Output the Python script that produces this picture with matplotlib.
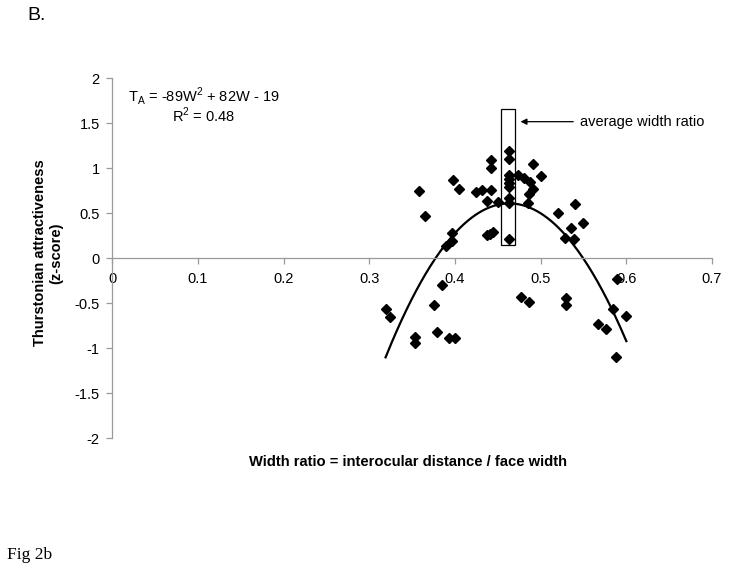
import numpy as np
import matplotlib
matplotlib.use("Agg")
import matplotlib.pyplot as plt
from matplotlib.patches import Rectangle

# ---- data ----
width_ratio = [0.358, 0.3645, 0.398, 0.405, 0.425, 0.397, 0.397, 0.390, 0.385,
               0.463, 0.463, 0.4415, 0.4415, 0.432, 0.4415, 0.4376, 0.4497,
               0.463, 0.463, 0.463, 0.463, 0.463, 0.463, 0.463,
               0.474, 0.481, 0.487, 0.4905, 0.491, 0.486, 0.4855, 0.500,
               0.4376, 0.4407, 0.4446, 0.5197, 0.540, 0.536, 0.5496, 0.5286,
               0.5387, 0.589, 0.319, 0.324, 0.353, 0.353, 0.376, 0.3785,
               0.393, 0.400, 0.477, 0.486, 0.529, 0.529, 0.5846, 0.600,
               0.5675, 0.576, 0.588]
attractiveness = [0.748, 0.473, 0.870, 0.770, 0.733, 0.278, 0.196, 0.140, -0.30,
                  1.19, 1.10, 1.09, 1.007, 0.759, 0.759, 0.64, 0.629,
                  0.925, 0.88, 0.84, 0.795, 0.667, 0.62, 0.21,
                  0.925, 0.889, 0.844, 1.048, 0.767, 0.711, 0.611, 0.914,
                  0.262, 0.27, 0.296, 0.507, 0.603, 0.337, 0.396, 0.229,
                  0.218, -0.233, -0.563, -0.648, -0.871, -0.945, -0.519, -0.822,
                  -0.886, -0.882, -0.433, -0.486, -0.441, -0.515, -0.563, -0.637,
                  -0.733, -0.789, -1.093]

# drawn quadratic trend line (as plotted) and its range
trend_coeffs = [-82.0, 76.0, -17.0]
trend_range = [0.319, 0.600]

# average width ratio box
avg_box_w = [0.454, 0.4697]
avg_box_v = [0.152, 1.655]

x_ticks = [0, 0.1, 0.2, 0.3, 0.4, 0.5, 0.6, 0.7]
x_ticklabels = ["0", "0.1", "0.2", "0.3", "0.4", "0.5", "0.6", "0.7"]
y_ticks = [-2, -1.5, -1, -0.5, 0, 0.5, 1, 1.5, 2]
y_ticklabels = ["-2", "-1.5", "-1", "-0.5", "0", "0.5", "1", "1.5", "2"]

plt.rcParams['font.family'] = ['Liberation Sans', 'DejaVu Sans']
plt.rcParams['mathtext.fontset'] = 'custom'
plt.rcParams['mathtext.rm'] = 'Liberation Sans'

W, H = 729, 573
fig = plt.figure(figsize=(W / 100, H / 100), dpi=100)
ax = fig.add_axes([112.3 / W, 1 - 438.3 / H, (712 - 112.3) / W, (438.3 - 78.3) / H])

axis_gray = '#9a9a9a'
ax.set_xlim(0, 0.7)
ax.set_ylim(-2, 2)

# points
ax.plot(width_ratio, attractiveness, linestyle='none', marker='D',
        markersize=5.4, color='black', zorder=3)

# trend curve
wc = np.linspace(trend_range[0], trend_range[1], 200)
ax.plot(wc, np.polyval(trend_coeffs, wc), color='black', lw=1.6, zorder=2)

# box around average width ratio
ax.add_patch(Rectangle((avg_box_w[0], avg_box_v[0]), avg_box_w[1] - avg_box_w[0],
                       avg_box_v[1] - avg_box_v[0], fill=False,
                       edgecolor='black', lw=0.9, zorder=4))
ax.annotate('', xy=(0.4765, 1.518), xytext=(0.538, 1.518),
            arrowprops=dict(arrowstyle='-|>', color='black', lw=0.9,
                            mutation_scale=9, shrinkA=0, shrinkB=0))
ax.text(0.546, 1.518, 'average width ratio', fontsize=10.5, va='center', ha='left')

# equation
ax.text(0.107, 1.80, r'T$_\mathregular{A}$ = -89W$^\mathregular{2}$ + 82W - 19',
        fontsize=10.5, ha='center', va='center')
ax.text(0.107, 1.585, r'R$^\mathregular{2}$ = 0.48', fontsize=10.5,
        ha='center', va='center')

# axes styling
for s in ['top', 'right']:
    ax.spines[s].set_visible(False)
ax.spines['left'].set_color(axis_gray)
ax.spines['bottom'].set_color(axis_gray)
ax.spines['bottom'].set_position(('data', 0))
ax.spines['left'].set_linewidth(0.9)
ax.spines['bottom'].set_linewidth(0.9)

ax.set_xticks(x_ticks)
ax.set_xticklabels(x_ticklabels)
ax.set_yticks(y_ticks)
ax.set_yticklabels(y_ticklabels)
ax.tick_params(axis='both', direction='out', length=4, width=0.9,
               color=axis_gray, labelsize=10.5, labelcolor='black')
ax.tick_params(axis='x', pad=6)
ax.tick_params(axis='y', pad=5)

fig.text(40 / W, 1 - 253 / H, 'Thurstonian attractiveness', rotation=90,
         fontsize=10.5, fontweight='bold', ha='center', va='center')
fig.text(56 / W, 1 - 253 / H, '(z-score)', rotation=90,
         fontsize=10.5, fontweight='bold', ha='center', va='center')
fig.text(408 / W, 1 - 462 / H, 'Width ratio = interocular distance / face width',
         fontsize=10.6, fontweight='bold', ha='center', va='center')

fig.text(27 / W, 1 - 15 / H, 'B.', fontsize=14, ha='left', va='center')
fig.text(7 / W, 1 - 555 / H, 'Fig 2b', fontsize=12.5, ha='left', va='center',
         family='Liberation Serif')

fig.savefig('out.png', dpi=100)
